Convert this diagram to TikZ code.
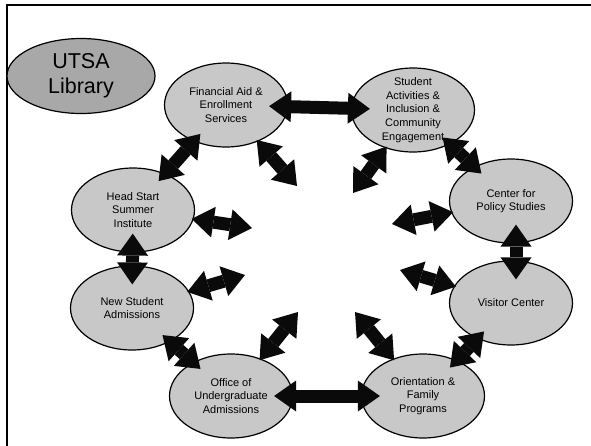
\documentclass[tikz,border=0pt]{standalone}
\usepackage{fontspec}
\setmainfont{Liberation Sans}
\usetikzlibrary{arrows.meta, shapes.geometric}
\definecolor{unitgray}{HTML}{C8C8C8}
\definecolor{libgray}{HTML}{A8A8A8}
\definecolor{ink}{HTML}{0A0A0A}

\begin{document}
\begin{tikzpicture}[
  x=1pt, y=-1pt,
  every node/.style={font=\fontsize{11}{13.6}\selectfont},
  office/.style={
    ellipse, draw, line width=1.2pt, fill=unitgray, inner sep=0pt,
    minimum width=123pt, minimum height=84pt, align=center
  },
  library/.style={
    office, fill=libgray, minimum width=148pt, minimum height=75pt,
    font=\fontsize{21.5}{25}\selectfont
  },
  link/.style={
    {Triangle[length=22pt, width=31pt, line width=0pt]}-{Triangle[length=22pt, width=31pt, line width=0pt]},
    ink, line width=13pt, shorten <=-10pt, shorten >=-10pt
  },
  straight/.style={shorten <=-19pt, shorten >=-19pt},
  spoke/.style={link, shorten <=-2pt, shorten >=0pt}
]
  \useasboundingbox (0,0) rectangle (591,445);
  \draw[line width=2.5pt] (7,460) -- (7,5) -- (600,5);

  \node[library] (lib) at (81,76) {UTSA\\Library};
  \node[office] (fin) at (226,105) {Financial Aid \&\\Enrollment\\Services};
  \node[office, inner ysep=-12pt] (stu) at (413,110) {Student\\Activities \&\\Inclusion \&\\Community\\Engagement};
  \node[office] (pol) at (511,201) {Center for\\Policy Studies};
  \node[office] (vis) at (511,303) {Visitor Center};
  \node[office] (ori) at (423,396) {Orientation \&\\Family\\Programs};
  \node[office] (off) at (231,396) {Office of\\Undergraduate\\Admissions};
  \node[office] (new) at (132,308) {New Student\\Admissions};
  \node[office] (head) at (133,210) {Head Start\\Summer\\Institute};

  % ring of neighbours
  \draw[link, straight] (fin) -- (stu);
  \draw[link] (stu) -- (pol);
  \draw[link, straight] ([xshift=5pt]pol.south) -- ([xshift=5pt]vis.north);
  \draw[link] (vis) -- (ori);
  \draw[link, straight] (ori) -- (off);
  \draw[link] (off) -- (new);
  \draw[link, straight] (new) -- (head);
  \draw[link] (head) -- (fin);

  % spokes towards the middle
  \coordinate (finin) at (297,186);
  \coordinate (stuin) at (353,193);
  \coordinate (polin) at (392,224);
  \coordinate (visin) at (400,270);
  \coordinate (oriin) at (355,312);
  \coordinate (offin) at (298,312);
  \coordinate (newin) at (245,275);
  \coordinate (headin) at (252,228);
  \draw[spoke] (fin) -- (finin);
  \draw[spoke] (stu) -- (stuin);
  \draw[spoke] (pol) -- (polin);
  \draw[spoke] (vis) -- (visin);
  \draw[spoke] (ori) -- (oriin);
  \draw[spoke] (off) -- (offin);
  \draw[spoke] (new) -- (newin);
  \draw[spoke] (head) -- (headin);
\end{tikzpicture}
\end{document}
